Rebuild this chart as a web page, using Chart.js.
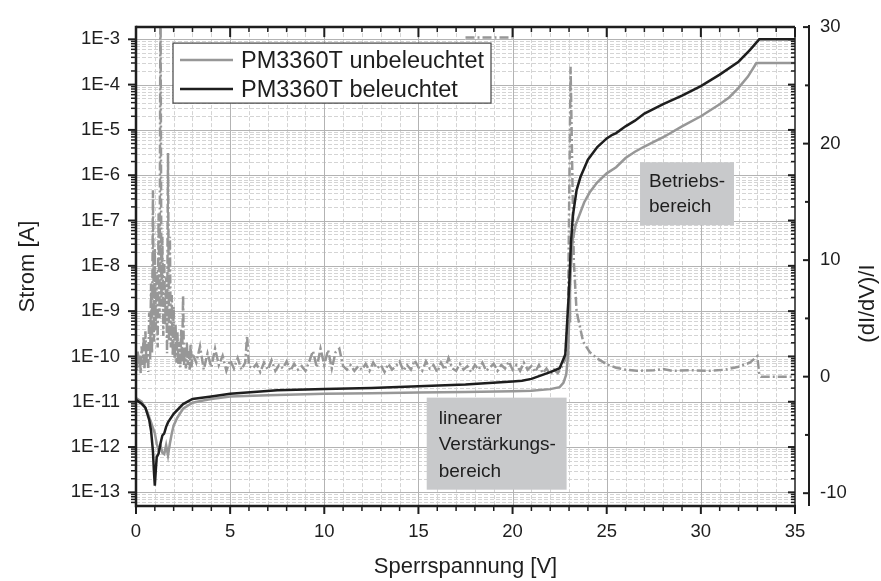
<!DOCTYPE html>
<html>
<head>
<meta charset="utf-8">
<script src="https://cdn.jsdelivr.net/npm/chart.js@4.4.0/dist/chart.umd.min.js"></script>
<style>
  html, body { margin: 0; padding: 0; background: #fff; }
  canvas { display: block; }
</style>
</head>
<body>
<canvas id="chart" width="881" height="581"></canvas>
<script>
// PM3360T unbeleuchtet (Strom, left axis)
const darkV = [0, 0.3, 0.6, 0.8, 1.0, 1.1, 1.2, 1.3, 1.4, 1.5, 1.6, 1.7, 1.8, 1.9, 2.0, 2.2, 2.5, 3.0, 3.5, 4, 5, 7, 10, 12.5, 15, 17.5, 20, 21, 22, 22.5, 22.7, 22.85, 22.95, 23.0, 23.05, 23.1, 23.2, 23.35, 23.6, 23.8, 24.1, 24.5, 25, 25.5, 26, 26.5, 27, 28, 29, 30, 31, 31.5, 32, 32.5, 32.95, 35];
const darkI = [1.2e-11, 1.0e-11, 6e-12, 3.5e-12, 2.0e-12, 1.2e-12, 8.5e-13, 1.1e-12, 7.5e-13, 7e-13, 1.1e-12, 6.5e-13, 1.2e-12, 2.0e-12, 3.0e-12, 4.5e-12, 7e-12, 9.5e-12, 1.05e-11, 1.15e-11, 1.3e-11, 1.4e-11, 1.5e-11, 1.55e-11, 1.6e-11, 1.65e-11, 1.7e-11, 1.75e-11, 1.9e-11, 2.1e-11, 2.6e-11, 4e-11, 1.1e-10, 6e-10, 3e-9, 1e-8, 4e-8, 8e-8, 1.5e-7, 2.5e-7, 4.2e-7, 7e-7, 1.1e-6, 1.5e-6, 2.4e-6, 3.3e-6, 4.3e-6, 6.9e-6, 1.2e-5, 2.0e-5, 3.7e-5, 5.2e-5, 8.5e-5, 1.5e-4, 3.0e-4, 3.0e-4];

// PM3360T beleuchtet (Strom, left axis)
const lightV = [0, 0.3, 0.5, 0.7, 0.8, 0.9, 0.95, 1.0, 1.05, 1.1, 1.2, 1.3, 1.4, 1.5, 1.6, 1.7, 2.0, 2.5, 3.0, 4, 5, 7.5, 10, 12.5, 15, 17.5, 20, 20.5, 21, 22, 22.5, 22.8, 22.9, 23.0, 23.1, 23.2, 23.4, 23.6, 24.0, 24.5, 25.0, 25.3, 25.5, 26.0, 26.5, 27, 28, 29, 30, 31, 32, 32.6, 33.1, 35];
const lightI = [1.1e-11, 9e-12, 7.4e-12, 4e-12, 2.3e-12, 8e-13, 3e-13, 1.4e-13, 3e-13, 6e-13, 7.2e-13, 1.2e-12, 1.8e-12, 2e-12, 2.8e-12, 3.5e-12, 5.4e-12, 8.9e-12, 1.15e-11, 1.3e-11, 1.5e-11, 1.8e-11, 1.9e-11, 2.0e-11, 2.2e-11, 2.4e-11, 2.8e-11, 2.9e-11, 3.2e-11, 4.5e-11, 5.5e-11, 1.1e-10, 5.7e-10, 3.1e-9, 3.2e-8, 1.26e-7, 4.7e-7, 9e-7, 2.2e-6, 4.2e-6, 6.5e-6, 7.8e-6, 8.5e-6, 1.2e-5, 1.6e-5, 2.3e-5, 3.7e-5, 5.7e-5, 9.3e-5, 1.66e-4, 3.2e-4, 5.8e-4, 1e-3, 1e-3];

// (dI/dV)/I (right axis)
const ratioV = [0, 0.05, 0.1, 0.15, 0.2, 0.25, 0.3, 0.35, 0.4, 0.45, 0.5, 0.55, 0.6, 0.65, 0.7, 0.75, 0.8, 0.85, 0.9, 0.95,
  1.0, 1.05, 1.1, 1.15, 1.2, 1.25, 1.3, 1.35, 1.4, 1.45, 1.5, 1.55, 1.6, 1.65, 1.7, 1.75, 1.8, 1.85, 1.9, 1.95,
  2.0, 2.05, 2.1, 2.15, 2.2, 2.25, 2.3, 2.35, 2.4, 2.45, 2.5, 2.55, 2.6, 2.65, 2.7, 2.75, 2.8, 2.85, 2.9, 2.95, 3.0,
  3.2, 3.4, 3.6, 3.8, 4.0, 4.2, 4.4, 4.6, 4.8, 5.0, 5.2, 5.4, 5.6, 5.8, 5.9, 6.0, 6.2, 6.4, 6.6, 6.8,
  7.0, 7.2, 7.4, 7.6, 7.8, 8.0, 8.2, 8.4, 8.6, 8.8, 9.0, 9.2, 9.4, 9.6, 9.8, 10.0, 10.2, 10.4, 10.6, 10.8,
  11.0, 11.2, 11.4, 11.6, 11.8, 12.0, 12.2, 12.4, 12.6, 12.8, 13.0, 13.2, 13.4, 13.6, 13.8, 14.0, 14.2, 14.4, 14.6, 14.8,
  15.0, 15.2, 15.4, 15.6, 15.8, 16.0, 16.2, 16.4, 16.6, 16.8, 17.0, 17.2, 17.4, 17.6, 17.8, 18.0, 18.2, 18.4, 18.6, 18.8,
  19.0, 19.2, 19.4, 19.6, 19.8, 20.0, 20.2, 20.4, 20.6, 20.8, 21.0, 21.2, 21.4, 21.6, 21.8, 22.0, 22.2, 22.4, 22.6, 22.8,
  22.95, 23.08, 23.25, 23.4, 23.75, 24.1, 24.46, 25.0, 25.5, 26.0, 26.6, 27.5, 28.0, 28.5, 29.5, 30.5, 31.3, 32.0, 32.6, 33.0, 33.1, 33.2, 35];
const ratioY = [1.5, 0.5, 2.2, 0.8, 1.8, 0.3, 2.6, 1.0, 3.5, 0.6, 3.9, 1.2, 2.8, 0.4, 5.5, 1.5, 8.0, 2.0, 16.0, 3.0,
  11.0, 4.0, 9.0, 2.5, 14.0, 5.0, 34.0, 6.0, 12.0, 3.5, 10.0, 4.5, 8.5, 2.0, 19.2, 3.0, 12.0, 2.5, 7.0, 1.8,
  6.0, 1.5, 4.5, 1.2, 3.8, 1.0, 3.0, 0.8, 4.0, 1.2, 7.0, 1.0, 2.5, 0.7, 3.0, 1.0, 2.2, 0.6, 2.8, 0.8, 2.0,
  1.2, 2.6, 0.6, 2.0, 0.8, 2.4, 1.0, 1.8, 0.5, 1.4, 0.7, 1.6, 0.6, 1.2, 3.5, 0.9, 0.7, 1.1, 0.4, 1.2,
  0.6, 1.4, 0.5, 1.0, 0.7, 1.3, 0.5, 1.1, 0.6, 0.9, 0.5, 1.3, 2.2, 0.8, 2.4, 1.0, 2.3, 0.7, 2.1, 2.4,
  0.9, 0.6, 1.0, 0.5, 0.9, 0.6, 1.1, 0.5, 1.2, 0.7, 1.0, 0.4, 1.1, 0.6, 0.9, 1.3, 0.5, 1.0, 0.6, 1.4,
  0.8, 0.5, 1.3, 0.7, 1.0, 0.4, 1.2, 0.6, 1.6, 0.7, 0.5, 1.1, 0.6, 0.9, 0.4, 1.0, 0.6, 1.2, 0.5, 0.8,
  1.1, 0.5, 1.0, 0.7, 1.3, 0.6, 1.0, 0.5, 1.2, 0.6, 0.9, 0.4, 1.0, 0.3, 0.7, 0.2, 0.6, 0.3, 0.8, 1.5,
  6.0, 26.6, 10.0, 5.6, 3.0, 2.1, 1.6, 1.05, 0.77, 0.6, 0.5, 0.55, 0.65, 0.5, 0.55, 0.5, 0.6, 0.85, 1.2, 1.76, 0.2, 0, 0];
const ratioTopV = [17.5, 20.0];
const ratioTopY = [29.1, 29.1];

// axis ticks
const voltTicks = [0, 5, 10, 15, 20, 25, 30, 35];
const stromTicks = [1e-13, 1e-12, 1e-11, 1e-10, 1e-9, 1e-8, 1e-7, 1e-6, 1e-5, 1e-4, 1e-3];
const stromLabels = ['1E-13', '1E-12', '1E-11', '1E-10', '1E-9', '1E-8', '1E-7', '1E-6', '1E-5', '1E-4', '1E-3'];
const ratioTicks = [-10, 0, 10, 20, 30];

const FONT = '"Liberation Sans", Arial, sans-serif';
const INK = '#1e1e1e';
const GRAY = '#979797';

const pts = (xs, ys) => xs.map((x, i) => ({ x, y: ys[i] }));

function seg(ctx, x1, y1, x2, y2) {
  ctx.beginPath();
  ctx.moveTo(x1, y1);
  ctx.lineTo(x2, y2);
  ctx.stroke();
}

function minorLogValues(scale) {
  const out = [];
  for (let e = -14; e <= -3; e++) {
    for (let m = 2; m <= 9; m++) {
      const v = m * Math.pow(10, e);
      if (v > scale.min && v < scale.max) out.push(v);
    }
  }
  return out;
}

// text boxes in data units (x: V, y: right axis)
const notes = [
  { x0: 15.44, x1: 22.87, y0: -1.8, y1: -9.7, lines: ['linearer', 'Verstärkungs-', 'bereich'], dx: 12, dy: 21, lh: 26.5 },
  { x0: 26.77, x1: 31.76, y0: 18.4, y1: 13.0, lines: ['Betriebs-', 'bereich'], dx: 9, dy: 20, lh: 25 }
];

const decor = {
  id: 'decor',
  beforeDatasetsDraw(chart) {
    const { ctx, chartArea: a, scales: { x, y, y2 } } = chart;
    ctx.save();
    ctx.lineWidth = 1;

    // minor grid, dashed
    ctx.strokeStyle = '#d4d4d4';
    ctx.setLineDash([4, 2]);
    for (let v = 1; v < 35; v++) {
      if (v % 5 === 0) continue;
      const px = Math.round(x.getPixelForValue(v)) + 0.5;
      seg(ctx, px, a.top, px, a.bottom);
    }
    minorLogValues(y).forEach(v => {
      const py = Math.round(y.getPixelForValue(v)) + 0.5;
      seg(ctx, a.left, py, a.right, py);
    });

    // major grid
    ctx.setLineDash([]);
    ctx.strokeStyle = '#b3b3b3';
    voltTicks.slice(1, -1).forEach(v => {
      const px = Math.round(x.getPixelForValue(v)) + 0.5;
      seg(ctx, px, a.top, px, a.bottom);
    });
    stromTicks.forEach(v => {
      const py = Math.round(y.getPixelForValue(v)) + 0.5;
      seg(ctx, a.left, py, a.right, py);
    });

    // gray text boxes
    ctx.font = '19px ' + FONT;
    ctx.textBaseline = 'middle';
    ctx.textAlign = 'left';
    notes.forEach(n => {
      const l = x.getPixelForValue(n.x0), r = x.getPixelForValue(n.x1);
      const t = y2.getPixelForValue(n.y0), b = y2.getPixelForValue(n.y1);
      ctx.fillStyle = '#c8c9cb';
      ctx.fillRect(l, t, r - l, b - t);
      ctx.fillStyle = INK;
      n.lines.forEach((s, i) => ctx.fillText(s, l + n.dx, t + n.dy + i * n.lh));
    });
    ctx.restore();
  },
  afterDatasetsDraw(chart) {
    const { ctx, chartArea: a, scales: { x, y, y2 } } = chart;
    ctx.save();
    ctx.strokeStyle = INK;

    // tick marks
    ctx.lineWidth = 1.5;
    minorLogValues(y).forEach(v => {
      const py = y.getPixelForValue(v);
      seg(ctx, a.left - 5, py, a.left, py);
      seg(ctx, a.right, py, a.right - 4, py);
    });
    for (let v = 1; v < 35; v++) {
      if (v % 5 === 0) continue;
      const px = x.getPixelForValue(v);
      seg(ctx, px, a.bottom, px, a.bottom + 5);
      seg(ctx, px, a.top, px, a.top + 5);
    }
    ctx.lineWidth = 2;
    stromTicks.forEach(v => {
      const py = y.getPixelForValue(v);
      seg(ctx, a.left - 8, py, a.left, py);
      seg(ctx, a.right, py, a.right - 7, py);
    });
    voltTicks.forEach(v => {
      const px = x.getPixelForValue(v);
      seg(ctx, px, a.bottom, px, a.bottom + 8);
      seg(ctx, px, a.top, px, a.top + 10);
    });

    // frame
    ctx.lineWidth = 2.5;
    seg(ctx, a.left, a.top - 1.25, a.left, a.bottom + 1.25);
    seg(ctx, a.left, a.top, a.right, a.top);
    seg(ctx, a.left, a.bottom, a.right + 1, a.bottom);
    ctx.lineWidth = 1.5;
    seg(ctx, a.right, a.top, a.right, a.bottom);

    // right axis, set off from the frame
    const ax = a.right + 14;
    ctx.lineWidth = 2;
    seg(ctx, ax, a.top - 2, ax, a.bottom);
    ctx.fillStyle = INK;
    ctx.font = '18.5px ' + FONT;
    ctx.textAlign = 'left';
    ctx.textBaseline = 'middle';
    ratioTicks.forEach((v, i) => {
      const py = y2.getPixelForValue(v);
      seg(ctx, ax - 6, py, ax, py);
      ctx.fillText(String(v), ax + 11, py);
      if (i < ratioTicks.length - 1) {
        const pm = y2.getPixelForValue(v + 5);
        seg(ctx, ax - 4, pm, ax, pm);
      }
    });
    ctx.font = '22px ' + FONT;
    ctx.textAlign = 'center';
    ctx.translate(868, (a.top + a.bottom) / 2 + 37);
    ctx.rotate(-Math.PI / 2);
    ctx.fillText('(dI/dV)/I', 0, 0);
    ctx.setTransform(1, 0, 0, 1, 0, 0);

    // legend
    const lx = a.left + 37, ly = a.top + 16;
    ctx.fillStyle = '#fff';
    ctx.fillRect(lx, ly, 318, 60);
    ctx.strokeStyle = '#444';
    ctx.lineWidth = 1.2;
    ctx.strokeRect(lx, ly, 318, 60);
    const entries = [[chart.data.datasets[1].label, GRAY], [chart.data.datasets[0].label, INK]];
    ctx.font = '23.5px ' + FONT;
    ctx.textAlign = 'left';
    entries.forEach(([label, col], i) => {
      const yy = ly + 17 + i * 29;
      ctx.strokeStyle = col;
      ctx.lineWidth = 2.5;
      seg(ctx, lx + 7, yy, lx + 60, yy);
      ctx.fillStyle = INK;
      ctx.fillText(label, lx + 68, yy + 1);
    });
    ctx.restore();
  }
};

new Chart(document.getElementById('chart'), {
  type: 'line',
  data: {
    datasets: [
      { label: 'PM3360T beleuchtet', data: pts(lightV, lightI), yAxisID: 'y', borderColor: INK, borderWidth: 2.5, pointRadius: 0 },
      { label: 'PM3360T unbeleuchtet', data: pts(darkV, darkI), yAxisID: 'y', borderColor: GRAY, borderWidth: 2.5, pointRadius: 0 },
      { label: '(dI/dV)/I', data: pts(ratioV, ratioY), yAxisID: 'y2', borderColor: GRAY, borderWidth: 2.5, borderDash: [9, 3, 2, 3], pointRadius: 0 },
      { label: '(dI/dV)/I ', data: pts(ratioTopV, ratioTopY), yAxisID: 'y2', borderColor: GRAY, borderWidth: 2.5, borderDash: [9, 3, 2, 3], pointRadius: 0 }
    ]
  },
  options: {
    responsive: false,
    animation: false,
    events: [],
    layout: { padding: { left: 0, right: 86, top: 22, bottom: 0 } },
    plugins: { legend: { display: false }, tooltip: { enabled: false } },
    scales: {
      x: {
        type: 'linear',
        min: 0,
        max: 35,
        afterBuildTicks: s => { s.ticks = voltTicks.map(value => ({ value })); },
        afterFit: s => { s.height = 75; },
        grid: { display: false, drawTicks: false },
        border: { display: false },
        ticks: { color: INK, font: { family: FONT, size: 18.5 }, padding: 15, maxRotation: 0 },
        title: { display: true, text: 'Sperrspannung [V]', color: INK, font: { family: FONT, size: 22 }, padding: { top: 0, bottom: 1 } }
      },
      y: {
        type: 'logarithmic',
        position: 'left',
        min: 5.0e-14,
        max: 1.86e-3,
        afterBuildTicks: s => { s.ticks = stromTicks.map(value => ({ value })); },
        afterFit: s => { s.width = 136; },
        grid: { display: false, drawTicks: false },
        border: { display: false },
        ticks: {
          color: INK,
          font: { family: FONT, size: 18.5 },
          padding: 16,
          autoSkip: false,
          callback: v => stromLabels[stromTicks.indexOf(v)] ?? ''
        },
        title: { display: true, text: 'Strom [A]', color: INK, font: { family: FONT, size: 22 }, padding: { top: 15, bottom: 4 } }
      },
      y2: {
        type: 'linear',
        position: 'right',
        min: -11.1,
        max: 30,
        display: false
      }
    }
  },
  plugins: [decor]
});
</script>
</body>
</html>
